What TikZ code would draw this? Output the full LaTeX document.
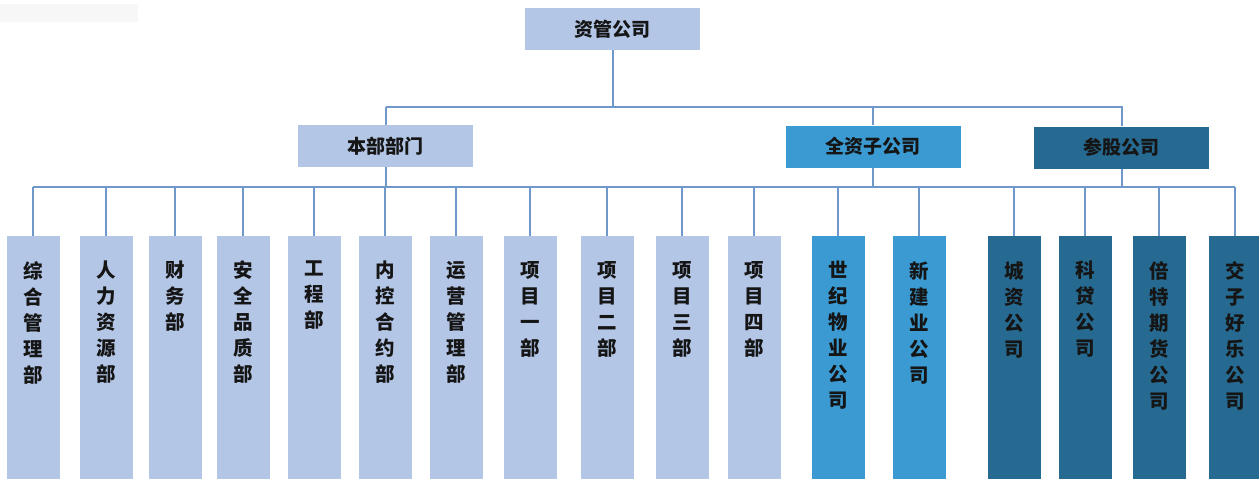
\documentclass[tikz,border=0pt]{standalone}
\usepackage{fontspec}
\newfontfamily\cjk{Noto Sans CJK SC Black}
\definecolor{lightfill}{HTML}{B4C6E6}
\definecolor{midfill}{HTML}{3A9AD1}
\definecolor{darkfill}{HTML}{276A91}
\definecolor{linec}{HTML}{7097C9}
\definecolor{txt}{HTML}{151515}
\definecolor{wm}{HTML}{F7F7F7}
\tikzset{
  conn/.style={draw=linec, line width=2pt},
  box/.style={rectangle, inner sep=0pt, minimum width=175pt, minimum height=42pt,
    font=\cjk\fontsize{19}{19}\selectfont, text=txt},
  leafbox/.style={rectangle, inner sep=0pt, minimum width=53pt, minimum height=246pt, anchor=north},
  leaftext/.style={anchor=north, inner sep=0pt, align=center, text=txt,
    font=\cjk\fontsize{19.5}{26}\selectfont},
}
\begin{document}
\begin{tikzpicture}[x=1pt,y=-1pt]
\useasboundingbox (0,0) rectangle (1259,479);
\fill[wm] (0,4) rectangle (138,22);
% top levels
\node[box, fill=lightfill] (root) at (612.5,29) {资管公司};
\node[box, fill=lightfill] (hq) at (385.5,146) {本部部门};
\node[box, fill=midfill] (full) at (873,146.5) {全资子公司};
\node[box, fill=darkfill] (share) at (1121.5,147.5) {参股公司};
\coordinate (busA) at (0,107);
\coordinate (busB) at (0,187);
% leaves
\foreach \n/\x/\c/\t in {
  l1/33/lightfill/{综\\合\\管\\理\\部},
  l2/106/lightfill/{人\\力\\资\\源\\部},
  l3/175/lightfill/{财\\务\\部},
  l4/243/lightfill/{安\\全\\品\\质\\部},
  l5/314/lightfill/{工\\程\\部},
  l6/385/lightfill/{内\\控\\合\\约\\部},
  l7/456/lightfill/{运\\营\\管\\理\\部},
  l8/530/lightfill/{项\\目\\一\\部},
  l9/607/lightfill/{项\\目\\二\\部},
  l10/682/lightfill/{项\\目\\三\\部},
  l11/754/lightfill/{项\\目\\四\\部},
  l12/838/midfill/{世\\纪\\物\\业\\公\\司},
  l13/919/midfill/{新\\建\\业\\公\\司},
  l14/1014/darkfill/{城\\资\\公\\司},
  l15/1085/darkfill/{科\\贷\\公\\司},
  l16/1159/darkfill/{倍\\特\\期\\货\\公\\司},
  l17/1235/darkfill/{交\\子\\好\\乐\\公\\司}}{
  \node[leafbox, fill=\c] (\n) at (\x,236) {};
  \node[leaftext] (\n t) at ([yshift=-25pt]\n.north) {\t};
}
% connectors
\draw[conn] (root.south) -- (root.south |- busA);
\draw[conn] (hq.north |- busA) -- (share.north |- busA) -- (share.north);
\draw[conn] (hq.north |- busA) -- (hq.north);
\draw[conn] (full.north |- busA) -- (full.north);
\draw[conn] (hq.south) -- (hq.south |- busB);
\draw[conn] (full.south) -- (full.south |- busB);
\draw[conn] (share.south) -- (share.south |- busB);
\draw[conn] (l1.north |- busB) -- (l17.north |- busB);
\foreach \n in {l1,l2,l3,l4,l5,l6,l7,l8,l9,l10,l11,l12,l13,l14,l15,l16,l17}{
  \draw[conn] (\n.north |- busB) -- (\n.north);
}
\end{tikzpicture}
\end{document}
